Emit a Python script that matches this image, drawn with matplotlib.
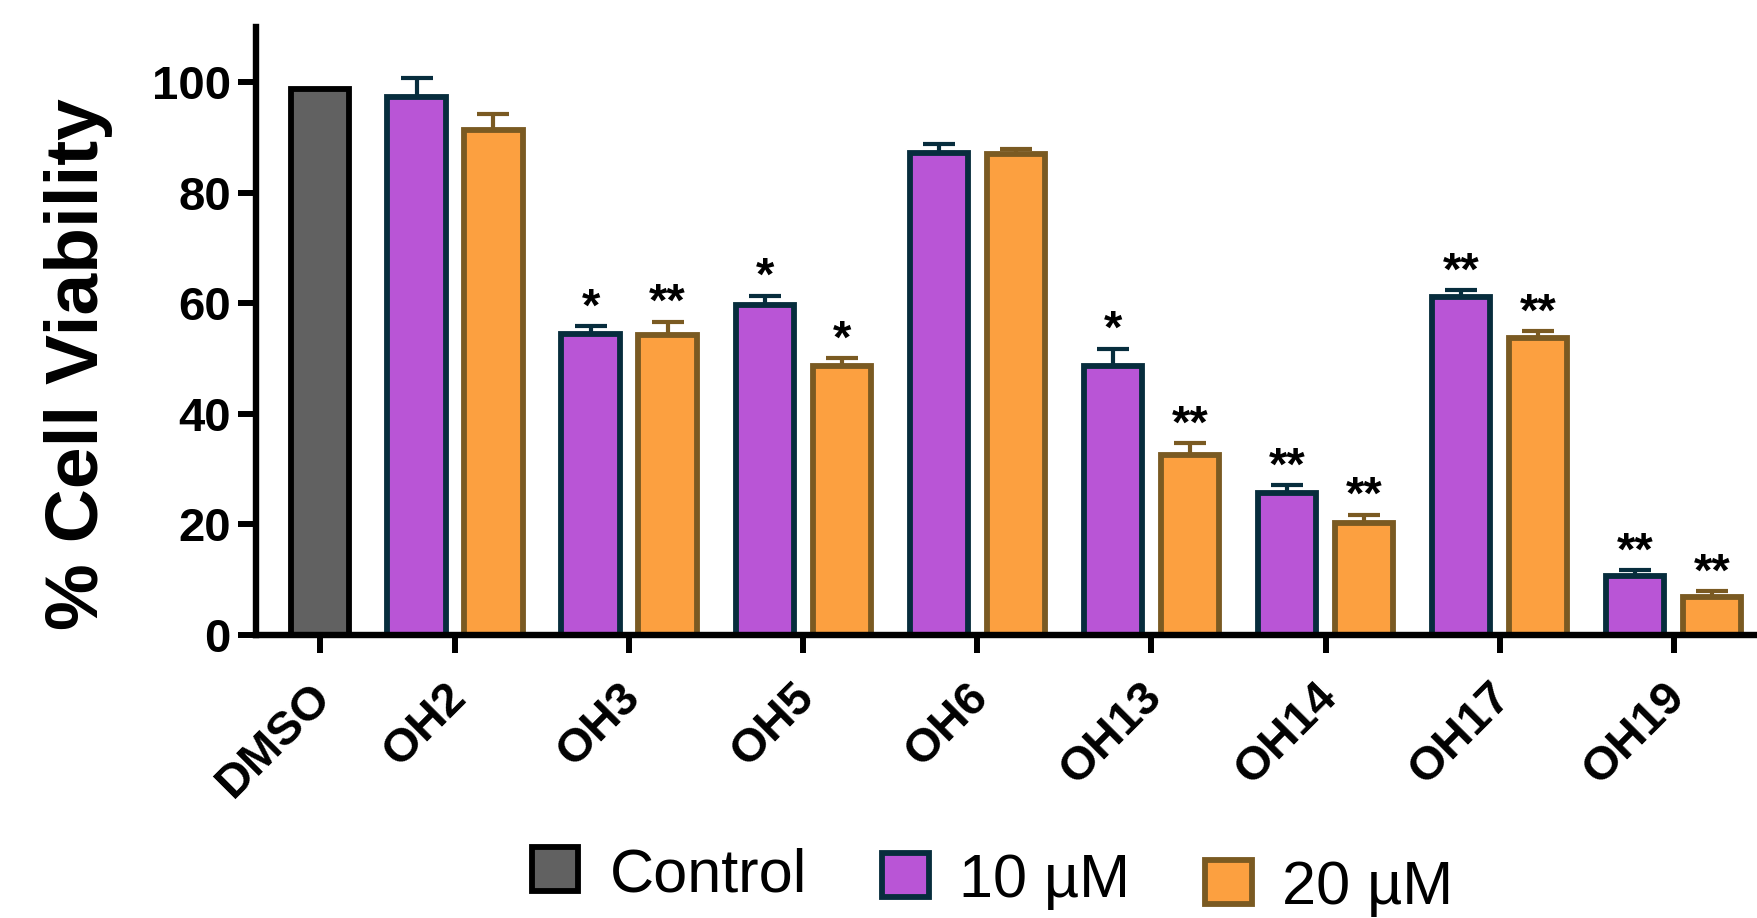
import matplotlib
matplotlib.use("Agg")
import matplotlib.pyplot as plt
import numpy as np
from matplotlib.patches import Rectangle
from matplotlib.transforms import ScaledTranslation

plt.rcParams['font.family'] = ['Liberation Sans', 'DejaVu Sans']

# ---------------- data ----------------
categories = ["DMSO", "OH2", "OH3", "OH5", "OH6", "OH13", "OH14", "OH17", "OH19"]
control_value = 98.8
conc_10 = [97.3, 54.5, 59.7, 87.2, 48.7, 25.7, 61.1, 10.6]
conc_10_err = [3.5, 1.4, 1.7, 1.6, 3.1, 1.4, 1.3, 1.2]
conc_20 = [91.4, 54.3, 48.6, 87.0, 32.5, 20.3, 53.8, 6.9]
conc_20_err = [2.8, 2.4, 1.5, 0.9, 2.2, 1.5, 1.2, 1.1]
sig_10 = ["", "*", "*", "", "*", "**", "**", "**"]
sig_20 = ["", "**", "*", "", "**", "**", "**", "**"]
legend_labels = ["Control", "10 \u00b5M", "20 \u00b5M"]
yticks = [0, 20, 40, 60, 80, 100]

# ---------------- style ----------------
gray_fill, gray_edge = "#616161", "#000000"
purple_fill, purple_edge = "#b955d6", "#072d3d"
orange_fill, orange_edge = "#fca040", "#7a5a22"
W, H = 1757, 918
edge_lw = 4.2
bar_w = 0.335
offset = 0.221
dmso_pos = -0.775

fig = plt.figure(figsize=(W / 100, H / 100), dpi=100)
ax = fig.add_axes([256 / W, (H - 635) / H, (W - 256) / W, (635 - 27) / H])

groups = np.arange(len(conc_10))
x10 = groups - offset
x20 = groups + offset

ax.bar([dmso_pos], [control_value], bar_w, color=gray_fill, edgecolor=gray_edge,
       linewidth=edge_lw, zorder=2)
ax.bar(x10, conc_10, bar_w, color=purple_fill, edgecolor=purple_edge,
       linewidth=edge_lw, zorder=2)
ax.bar(x20, conc_20, bar_w, color=orange_fill, edgecolor=orange_edge,
       linewidth=edge_lw, zorder=2)

ax.errorbar(x10, conc_10, yerr=[np.zeros(len(conc_10)), conc_10_err], fmt="none",
            ecolor=purple_edge, elinewidth=3, capsize=11.5, capthick=3, zorder=1.9)
ax.errorbar(x20, conc_20, yerr=[np.zeros(len(conc_20)), conc_20_err], fmt="none",
            ecolor=orange_edge, elinewidth=3, capsize=11.5, capthick=3, zorder=1.9)

for xs, vals, errs, sigs in [(x10, conc_10, conc_10_err, sig_10),
                             (x20, conc_20, conc_20_err, sig_20)]:
    for xi, v, e, s in zip(xs, vals, errs, sigs):
        if s:
            ax.annotate(s, (xi, v + e), xytext=(0, 4), textcoords="offset points",
                        ha="center", va="baseline", fontsize=34, fontweight="bold",
                        color="black")

ax.set_xlim(-1.143, 7.478)
ax.set_ylim(0, 110)

for side in ["top", "right"]:
    ax.spines[side].set_visible(False)
for side in ["left", "bottom"]:
    ax.spines[side].set_linewidth(4.6)

ax.set_yticks(yticks)
ax.set_yticklabels([str(t) for t in yticks], fontsize=34, fontweight="bold")
ax.set_xticks([dmso_pos] + list(groups))
ax.set_xticklabels(categories, fontsize=34, fontweight="bold", rotation=45,
                   ha="right", va="center", rotation_mode="anchor")
ax.tick_params(axis="y", length=13, width=4.3, pad=5)
ax.tick_params(axis="x", length=13, width=4.3, pad=27)
shift = ScaledTranslation(4 / 100, 0, fig.dpi_scale_trans)
for lab in ax.get_xticklabels():
    lab.set_transform(lab.get_transform() + shift)

fig.text(78.5 / W, 1 - 364 / H, "% Cell Viability", rotation=90, ha="center",
         va="center", fontsize=54, fontweight="bold")

# ---------------- legend ----------------
leg_items = [
    (legend_labels[0], gray_fill, gray_edge, (532, 847, 46, 44), (610, 892)),
    (legend_labels[1], purple_fill, purple_edge, (882, 853, 47, 44), (959, 897)),
    (legend_labels[2], orange_fill, orange_edge, (1204.5, 860, 47, 44), (1282, 904)),
]
for label, fc, ec, (rx, ry, rw, rh), (tx, ty) in leg_items:
    fig.patches.append(Rectangle((rx / W, 1 - (ry + rh) / H), rw / W, rh / H,
                                 transform=fig.transFigure, facecolor=fc,
                                 edgecolor=ec, linewidth=edge_lw, figure=fig))
    fig.text(tx / W, 1 - ty / H, label, ha="left", va="baseline", fontsize=44)

fig.savefig("out.png", dpi=100)
